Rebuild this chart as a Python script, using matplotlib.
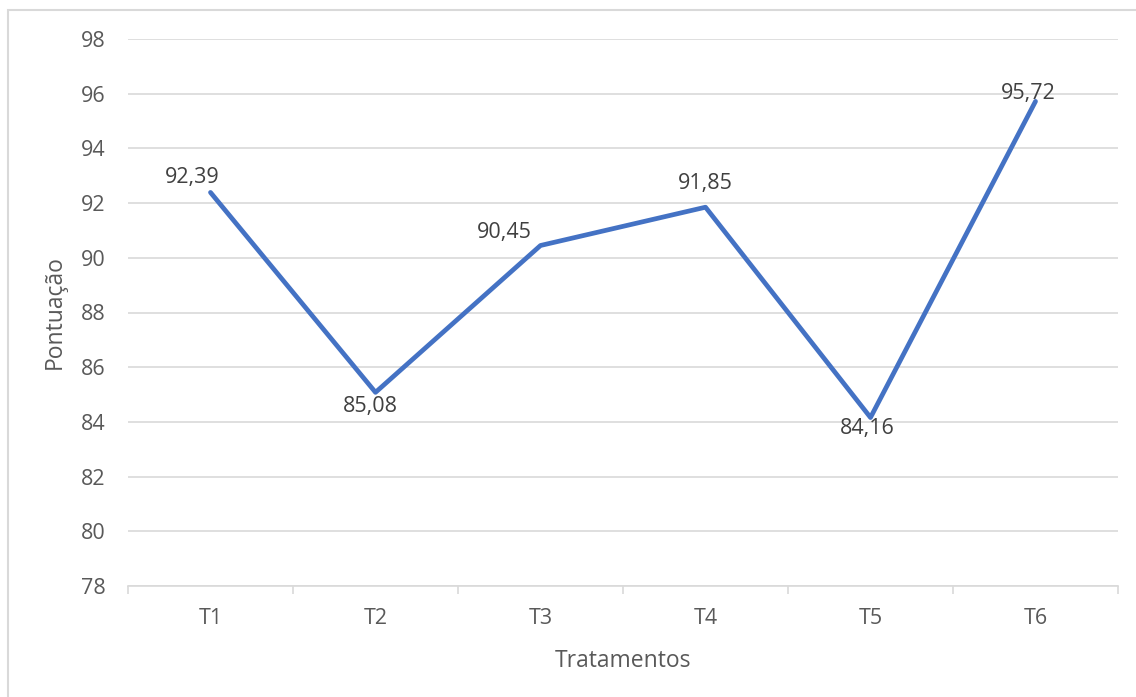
import matplotlib.pyplot as plt
from matplotlib.patches import Rectangle

plt.rcParams['font.family'] = ['Open Sans', 'DejaVu Sans']

# data
tratamentos = ['T1', 'T2', 'T3', 'T4', 'T5', 'T6']
pontuacao = [92.39, 85.08, 90.45, 91.85, 84.16, 95.72]
# label offsets (points) for each value
label_offsets = [(-13, 11), (-4, -10), (-26, 9), (0, 17), (-2, -8), (-5, 6)]

text_color = '#595959'
grid_color = '#D9D9D9'
line_color = '#4472C4'

fig = plt.figure(figsize=(11.36, 6.97), dpi=100)
ax = fig.add_axes([128 / 1136, 1 - 586 / 697, (1118 - 128) / 1136, (586 - 39) / 697])

# outer chart border
fig.patches.append(Rectangle((8 / 1136, -0.01), 1.2, 1 - 10 / 697 + 0.01,
                             transform=fig.transFigure, fill=False,
                             edgecolor=grid_color, linewidth=1.5))

x = list(range(1, len(tratamentos) + 1))
ax.plot(x, pontuacao, color=line_color, linewidth=3.4, solid_capstyle='round',
        solid_joinstyle='round', zorder=3)

for xi, yi, off in zip(x, pontuacao, label_offsets):
    ax.annotate(f'{yi:.2f}'.replace('.', ','), (xi, yi), xytext=off,
                textcoords='offset points', ha='center', va='center',
                fontsize=15.5, color='#404040', zorder=4)

ax.set_xlim(0.5, 6.5)
ax.set_ylim(78, 98)
ax.set_yticks(range(78, 99, 2))
ax.set_xticks(x)
ax.set_xticklabels(tratamentos)
ax.set_xticks([i + 0.5 for i in range(0, 7)], minor=True)

ax.grid(axis='y', color=grid_color, linewidth=1.2)
ax.set_axisbelow(True)
for side in ['top', 'right', 'left']:
    ax.spines[side].set_visible(False)
ax.spines['bottom'].set_color(grid_color)
ax.spines['bottom'].set_linewidth(1.2)

ax.tick_params(axis='y', length=0, pad=16, labelsize=15.5, labelcolor=text_color)
ax.tick_params(axis='x', which='major', length=0, pad=16, labelsize=15.5, labelcolor=text_color)
ax.tick_params(axis='x', which='minor', length=6, width=1.2, color=grid_color)

ax.set_xlabel('Tratamentos', fontsize=16.5, color=text_color, labelpad=14)
ax.set_ylabel('Pontuação', fontsize=16.5, color=text_color, labelpad=10)

fig.savefig('out.png', dpi=100)
